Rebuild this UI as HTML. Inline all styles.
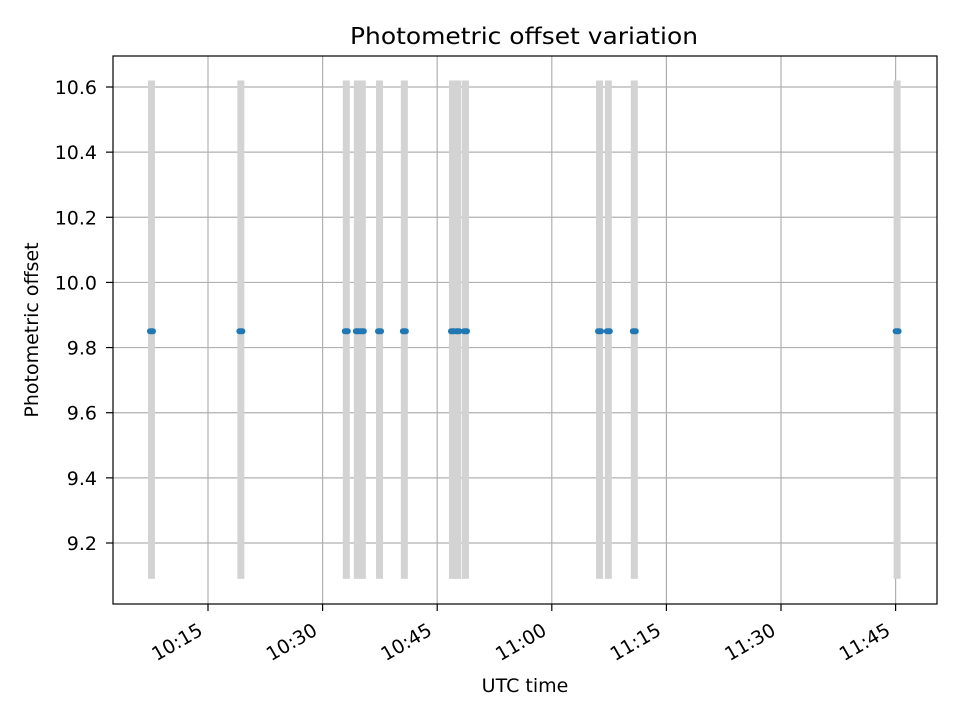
<!DOCTYPE html>
<html><head><meta charset="utf-8"><style>
body{margin:0;background:#fff;font-family:"DejaVu Sans","Liberation Sans",sans-serif}
svg text{font-family:"DejaVu Sans","Liberation Sans",sans-serif;fill:#000}
</style></head><body>
<svg id="chart" width="960" height="720" xmlns="http://www.w3.org/2000/svg"></svg>
<script>
// minutes after 10:00 UTC
const obsTimes=[7.6,19.3,33.1,34.55,35.2,37.45,40.7,47.0,47.7,48.7,66.25,67.4,70.8,105.2];
const obsOffset=[9.85,9.85,9.85,9.85,9.85,9.85,9.85,9.85,9.85,9.85,9.85,9.85,9.85,9.85];
const bandLow=9.09, bandHigh=10.62;
const xTicks=[15,30,45,60,75,90,105];
const xTickLabels=["10:15","10:30","10:45","11:00","11:15","11:30","11:45"];
const yTicks=[9.2,9.4,9.6,9.8,10.0,10.2,10.4,10.6];
const yTickLabels=["9.2","9.4","9.6","9.8","10.0","10.2","10.4","10.6"];

const L=113,R=937,T=56,B=604;
const xMin=15-(208-L)/7.64, xMax=15+(R-208)/7.64;
const yMin=9.2-(B-543)/325.7, yMax=10.6+(87-T)/325.7;
const X=v=>L+(v-xMin)/(xMax-xMin)*(R-L);
const Y=v=>B-(v-yMin)/(yMax-yMin)*(B-T);
const svg=document.getElementById('chart');
const NS="http://www.w3.org/2000/svg";
function mk(tag,attrs,name,txt){const e=document.createElementNS(NS,tag);for(const k in attrs)e.setAttribute(k,attrs[k]);


if(txt!==undefined)e.textContent=txt;svg.appendChild(e);return e;}
xTicks.forEach(t=>{mk('line',{x1:X(t),x2:X(t),y1:T,y2:B,stroke:'#b0b0b0','stroke-width':1.2},'x-grid-line');});
yTicks.forEach(t=>{mk('line',{x1:L,x2:R,y1:Y(t),y2:Y(t),stroke:'#b0b0b0','stroke-width':1.2},'y-grid-line');});
obsTimes.forEach(t=>{mk('rect',{x:X(t)-3.5,y:Y(bandHigh),width:7,height:Y(bandLow)-Y(bandHigh),fill:'#d3d3d3'},'exposure-band');});
obsTimes.forEach((t,i)=>{mk('rect',{x:X(t)-4.5,y:Y(obsOffset[i])-3,width:9,height:6,rx:3,fill:'#1f77b4'},'data-point');});
mk('rect',{x:L,y:T,width:R-L,height:B-T,fill:'none',stroke:'#000','stroke-width':1.2},'plot-frame');
xTicks.forEach((t,i)=>{
 mk('line',{x1:X(t),x2:X(t),y1:B,y2:B+7,stroke:'#000','stroke-width':1.2},'x-tick');
 const px=X(t)-4, py=B+30;
 mk('text',{x:px,y:py,'font-size':19,'text-anchor':'end',transform:`rotate(-30 ${px} ${py})`},'x-tick-label',xTickLabels[i]);
});
yTicks.forEach((t,i)=>{
 mk('line',{x1:L-7,x2:L,y1:Y(t),y2:Y(t),stroke:'#000','stroke-width':1.2},'y-tick');
 mk('text',{x:L-16,y:Y(t)+7,'font-size':19,'text-anchor':'end'},'y-tick-label',yTickLabels[i]);
});
mk('text',{x:524,y:44,'font-size':23,'text-anchor':'middle',textLength:348,lengthAdjust:'spacingAndGlyphs'},'chart-title','Photometric offset variation');
mk('text',{x:525,y:692,'font-size':19,'text-anchor':'middle'},'x-axis-title','UTC time');
mk('text',{x:38,y:330,'font-size':19,'text-anchor':'middle',transform:'rotate(-90 38 330)'},'y-axis-title','Photometric offset');
</script>
</body></html>
